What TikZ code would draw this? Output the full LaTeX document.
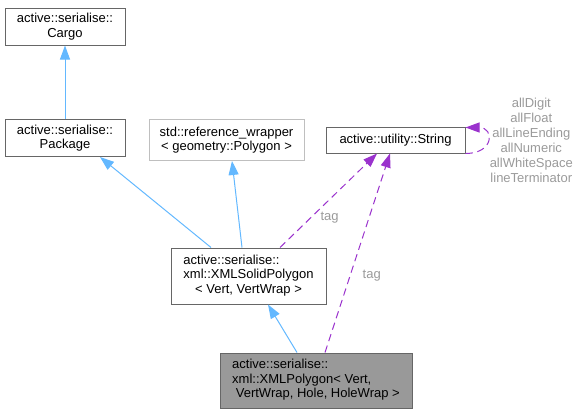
\documentclass[tikz,border=0pt]{standalone}
\usepackage{fontspec}
\setmainfont{Liberation Sans}
\usetikzlibrary{arrows.meta,calc}

\definecolor{inherit}{HTML}{63B8FF}
\definecolor{usage}{HTML}{9A32CD}
\definecolor{boxline}{HTML}{666666}
\definecolor{extline}{HTML}{BFBFBF}
\definecolor{lblgray}{HTML}{9A9A9A}
\definecolor{curfill}{HTML}{999999}

% left lines, last line centred
\newcommand{\dxlines}[2]{\begin{tabular}{@{}l@{}}#1\\\multicolumn{1}{@{}c@{}}{#2}\end{tabular}}

\begin{document}
\begin{tikzpicture}[x=0.75pt,y=-0.75pt,
  font=\fontsize{9.75}{10.8}\selectfont,
  cls/.style={draw=boxline,line width=0.75pt,inner sep=0pt,align=center},
  ext/.style={cls,draw=extline},
  cur/.style={cls,fill=curfill},
  base/.style={draw=inherit,line width=0.75pt,-{Triangle[length=10.5pt,width=7.5pt]}},
  use/.style={draw=usage,line width=0.75pt,dash pattern=on 5.5pt off 3.5pt,-{Triangle[length=10.5pt,width=7.5pt]}},
  lbl/.style={text=lblgray,inner sep=0pt,align=center,font=\fontsize{9.75}{11.25}\selectfont}]

\useasboundingbox (0,0) rectangle (578,414);

\node[cls,minimum width=90pt,minimum height=27.75pt] (cargo) at (65,26.5) {active::serialise::\\Cargo};
\node[cls,minimum width=90pt,minimum height=27.75pt] (package) at (65,138) {active::serialise::\\Package};
\node[ext,minimum width=116.25pt,minimum height=30.75pt] (refw) at (226.5,140) {std::reference\_wrapper\\< geometry::Polygon >};
\node[cls,minimum width=104.25pt,minimum height=19.5pt] (string) at (395.5,140) {active::utility::String};
\node[cls,minimum width=116.25pt,minimum height=42pt] (solid) at (248.5,276)
  {\dxlines{active::serialise::\\xml::XMLSolidPolygon}{< Vert, VertWrap >}};
\node[cur,minimum width=144pt,minimum height=41.25pt] (polygon) at (316,380.5)
  {\dxlines{active::serialise::\\xml::XMLPolygon< Vert,}{\ VertWrap, Hole, HoleWrap >}};

\draw[base] (package.north) -- (cargo.south);
\draw[base] ($(solid.north)+(-37.5,0)$) -- ($(package.south)+(35,0)$);
\draw[base] ($(solid.north)+(-6.5,0)$) -- ($(refw.south)+(5.5,0)$);
\draw[base] ($(polygon.north)+(-19,0)$) -- ($(solid.south)+(19.5,0)$);

\draw[use] ($(solid.north)+(31.5,0)$) -- node[lbl,pos=0.32,anchor=west,xshift=6.75pt] (tag1) {tag} ($(string.south)+(-18.5,0)$);
\draw[use] ($(polygon.north)+(9,0)$) -- node[lbl,pos=0.387,anchor=west,xshift=9pt] (tag2) {tag} ($(string.south)+(-5.5,0)$);
\draw[use] (string.south east) .. controls +(29,0) and +(29,0) .. ($(string.north east)+(0,1)$)
  node[lbl,pos=0.5,anchor=west,xshift=1.5pt] (members) {allDigit\\allFloat\\allLineEnding\\allNumeric\\allWhiteSpace\\lineTerminator};

\end{tikzpicture}
\end{document}
